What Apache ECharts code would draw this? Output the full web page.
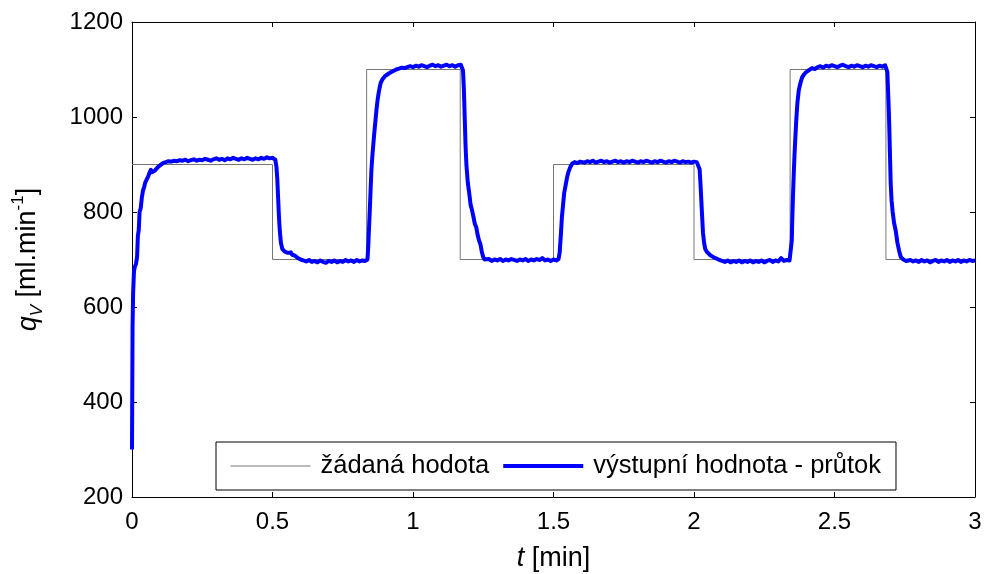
<!DOCTYPE html>
<html>
<head>
<meta charset="utf-8">
<title>qv</title>
<script src="https://cdn.jsdelivr.net/npm/echarts@6/dist/echarts.min.js"></script>
<style>
  html, body { margin: 0; padding: 0; background: #fff; }
  #chart { width: 992px; height: 574px; }
</style>
</head>
<body>
<div id="chart"></div>
<script>
// osa x a y
var xTicks = [0, 0.5, 1, 1.5, 2, 2.5, 3];
var yTicks = [200, 400, 600, 800, 1000, 1200];

// žádaná hodota (skoky) - [t, q]
var setpoint = [[0, 900], [0.5, 700], [0.835, 1100], [1.168, 700], [1.5, 900], [2.0, 700], [2.342, 1100], [2.683, 700], [3, 700]];

// výstupní hodnota - průtok, po úsecích [t, q]
var rise1 = [[0,300],[0.002,560],[0.004,630],[0.007,675],[0.01,685],[0.014,690],[0.018,705],[0.021,750],[0.024,762],[0.027,800],[0.031,808],[0.035,830],[0.039,845],[0.043,852],[0.047,862],[0.052,868],[0.057,874],[0.062,882],[0.067,889],[0.071,884],[0.076,881],[0.081,887],[0.087,891],[0.093,895],[0.1,899],[0.11,903],[0.12,905],[0.13,907],[0.14,906],[0.15,908],[0.16,907],[0.17,909],[0.18,908],[0.19,910],[0.2,907],[0.21,909],[0.22,911],[0.23,908],[0.24,910],[0.25,909],[0.26,912],[0.27,910],[0.28,908],[0.29,911],[0.3,913],[0.31,910],[0.32,912],[0.33,909],[0.34,913],[0.35,911],[0.36,914],[0.37,912],[0.38,910],[0.39,913],[0.4,911],[0.41,914],[0.42,912],[0.43,910],[0.44,913],[0.45,911],[0.46,914],[0.47,912],[0.48,915],[0.49,913],[0.5,914],[0.505,913],[0.51,910]];
var fall1 = [[0.514,895],[0.517,870],[0.52,830],[0.523,790],[0.526,760],[0.53,735],[0.535,722],[0.54,720],[0.545,716],[0.55,718],[0.555,714],[0.56,712],[0.565,715],[0.57,710],[0.575,706],[0.58,708],[0.59,703],[0.6,700],[0.61,698],[0.62,696],[0.63,699],[0.64,695],[0.65,697],[0.66,694],[0.67,698],[0.68,695],[0.69,693],[0.7,697],[0.71,695],[0.72,698],[0.73,694],[0.74,697],[0.75,695],[0.76,699],[0.77,696],[0.78,698],[0.79,695],[0.8,699],[0.81,696],[0.82,698],[0.83,697],[0.838,700]];
var rise2 = [[0.841,730],[0.843,760],[0.846,800],[0.848,830],[0.85,860],[0.852,888],[0.855,915],[0.858,937],[0.862,965],[0.866,990],[0.87,1015],[0.874,1036],[0.879,1055],[0.885,1072],[0.892,1080],[0.9,1086],[0.91,1090],[0.92,1094],[0.93,1097],[0.94,1100],[0.95,1102],[0.96,1104],[0.97,1103],[0.98,1105],[0.99,1107],[1.0,1105],[1.01,1108],[1.02,1106],[1.03,1109],[1.04,1107],[1.05,1105],[1.06,1108],[1.07,1110],[1.08,1107],[1.09,1109],[1.1,1106],[1.11,1108],[1.12,1110],[1.13,1107],[1.14,1109],[1.15,1106],[1.16,1109],[1.17,1110],[1.175,1108]];
var fall2 = [[1.178,1098],[1.181,1060],[1.184,1000],[1.187,940],[1.19,900],[1.195,862],[1.2,840],[1.205,815],[1.21,804],[1.215,790],[1.22,775],[1.225,768],[1.23,752],[1.235,740],[1.24,732],[1.245,716],[1.25,705],[1.255,700],[1.26,698],[1.27,701],[1.28,697],[1.29,700],[1.3,698],[1.31,701],[1.32,697],[1.33,700],[1.34,698],[1.35,701],[1.36,699],[1.37,697],[1.38,700],[1.39,698],[1.4,701],[1.41,697],[1.42,700],[1.43,698],[1.44,701],[1.45,699],[1.46,703],[1.47,698],[1.48,700],[1.49,697],[1.5,700],[1.51,698],[1.518,701]];
var rise3 = [[1.522,715],[1.526,750],[1.53,790],[1.534,815],[1.538,840],[1.543,856],[1.548,872],[1.553,884],[1.56,895],[1.567,902],[1.575,905],[1.585,903],[1.595,906],[1.61,904],[1.62,907],[1.63,905],[1.64,908],[1.65,904],[1.66,906],[1.67,908],[1.68,905],[1.69,907],[1.7,904],[1.71,906],[1.72,908],[1.73,905],[1.74,907],[1.75,904],[1.76,907],[1.77,905],[1.78,908],[1.79,906],[1.8,904],[1.81,907],[1.82,905],[1.83,908],[1.84,906],[1.85,904],[1.86,907],[1.87,905],[1.88,908],[1.89,906],[1.9,904],[1.91,907],[1.92,905],[1.93,908],[1.94,906],[1.95,904],[1.96,907],[1.97,905],[1.98,906],[1.99,904],[2.0,906],[2.01,905],[2.017,903]];
var fall3 = [[2.02,890],[2.023,860],[2.026,825],[2.029,790],[2.032,756],[2.036,735],[2.04,722],[2.046,716],[2.052,712],[2.058,709],[2.065,706],[2.072,704],[2.08,702],[2.09,699],[2.1,697],[2.11,695],[2.12,698],[2.13,694],[2.14,697],[2.15,695],[2.16,698],[2.17,694],[2.18,697],[2.19,695],[2.2,698],[2.21,694],[2.22,697],[2.23,695],[2.24,698],[2.25,694],[2.26,697],[2.27,699],[2.28,695],[2.29,698],[2.3,696],[2.31,703],[2.32,697],[2.33,699],[2.34,698],[2.346,700]];
var rise4 = [[2.348,740],[2.35,790],[2.352,830],[2.355,880],[2.358,925],[2.361,960],[2.364,994],[2.368,1030],[2.373,1057],[2.379,1072],[2.385,1084],[2.392,1090],[2.4,1095],[2.41,1099],[2.42,1103],[2.43,1101],[2.44,1105],[2.45,1107],[2.46,1104],[2.47,1108],[2.48,1106],[2.49,1109],[2.5,1107],[2.51,1105],[2.52,1108],[2.53,1110],[2.54,1107],[2.55,1105],[2.56,1108],[2.57,1106],[2.58,1109],[2.59,1107],[2.6,1105],[2.61,1108],[2.62,1106],[2.63,1109],[2.64,1107],[2.65,1105],[2.66,1108],[2.67,1106],[2.68,1109],[2.685,1110]];
var fall4 = [[2.688,1095],[2.691,1050],[2.694,1000],[2.697,930],[2.7,860],[2.703,825],[2.707,800],[2.712,777],[2.718,760],[2.724,735],[2.73,718],[2.736,705],[2.745,700],[2.755,697],[2.77,699],[2.78,696],[2.79,698],[2.8,695],[2.81,699],[2.82,696],[2.83,698],[2.84,694],[2.85,697],[2.86,699],[2.87,695],[2.88,698],[2.89,696],[2.9,699],[2.91,695],[2.92,698],[2.93,696],[2.94,699],[2.95,695],[2.96,698],[2.97,696],[2.98,699],[2.99,697],[3.0,698]];

var flow = [].concat(rise1, fall1, rise2, fall2, rise3, fall3, rise4, fall4);

var FONT = 'Liberation Sans, Arial, sans-serif';
var SP_COLOR = '#777';
var OUT_COLOR = '#0000ff';

var chart = echarts.init(document.getElementById('chart'));

function xAx(pos, showLabel) {
    return {
        type: 'value', position: pos, min: 0, max: 3, interval: 0.5,
        axisLine: { show: true, onZero: false, lineStyle: { color: '#000', width: 1 } },
        axisTick: { show: true, inside: true, length: 5, lineStyle: { color: '#000' } },
        axisLabel: { show: showLabel, color: '#000', fontSize: 24, fontFamily: FONT, margin: 13,
            formatter: function (v) { return xTicks.indexOf(v) >= 0 ? String(v) : ''; } },
        splitLine: { show: false }
    };
}
function yAx(pos, showLabel) {
    return {
        type: 'value', position: pos, min: 200, max: 1200, interval: 200,
        axisLine: { show: true, onZero: false, lineStyle: { color: '#000', width: 1 } },
        axisTick: { show: true, inside: true, length: 5, lineStyle: { color: '#000' } },
        axisLabel: { show: showLabel, color: '#000', fontSize: 24, fontFamily: FONT, margin: 9,
            formatter: function (v) { return yTicks.indexOf(v) >= 0 ? String(v) : ''; } },
        splitLine: { show: false }
    };
}

var xBottom = xAx('bottom', true);
xBottom.name = '{it|t} [min]';
xBottom.nameLocation = 'middle';
xBottom.nameGap = 48;
xBottom.nameTextStyle = { color: '#000', fontSize: 27, fontFamily: FONT,
    rich: { it: { fontStyle: 'italic', fontSize: 27, fontFamily: FONT, color: '#000' } } };

var yLeft = yAx('left', true);
yLeft.name = '{it|q}{sub|V}{n| [ml.min}{sup|-1}{n|]}';
yLeft.nameLocation = 'middle';
yLeft.nameGap = 86;
yLeft.nameTextStyle = { color: '#000', fontSize: 27, fontFamily: FONT, lineHeight: 36,
    rich: {
        it: { fontStyle: 'italic', fontSize: 27, fontFamily: FONT, color: '#000', lineHeight: 36 },
        n: { fontSize: 27, fontFamily: FONT, color: '#000', lineHeight: 36 },
        sub: { fontStyle: 'italic', fontSize: 17, fontFamily: FONT, color: '#000', verticalAlign: 'bottom', lineHeight: 36 },
        sup: { fontSize: 17, fontFamily: FONT, color: '#000', verticalAlign: 'top', lineHeight: 36 }
    } };

var option = {
    backgroundColor: '#fff',
    animation: false,
    grid: { left: 132, right: 17, top: 22, bottom: 77, outerBoundsMode: 'none', containLabel: false,
        show: true, backgroundColor: '#fff', borderWidth: 0 },
    xAxis: [xBottom, xAx('top', false)],
    yAxis: [yLeft, yAx('right', false)],
    legend: {
        left: 216, top: 442,
        orient: 'horizontal',
        padding: [11, 15, 11, 14],
        itemGap: 12,
        itemWidth: 80, itemHeight: 14,
        borderColor: '#000', borderWidth: 1, borderRadius: 0,
        backgroundColor: '#fff',
        itemStyle: { opacity: 0 },
        textStyle: { color: '#000', fontSize: 25.5, fontFamily: FONT, padding: [0, 0, 0, 5] },
        data: [
            { name: 'žádaná hodota', lineStyle: { color: SP_COLOR, width: 1 } },
            { name: 'výstupní hodnota - průtok', lineStyle: { color: OUT_COLOR, width: 4 } }
        ]
    },
    series: [
        {
            name: 'žádaná hodota', type: 'line', xAxisIndex: 0, yAxisIndex: 0,
            step: 'end', symbol: 'none', data: setpoint,
            lineStyle: { color: SP_COLOR, width: 1 }, itemStyle: { color: SP_COLOR }, z: 2
        },
        {
            name: 'výstupní hodnota - průtok', type: 'line', xAxisIndex: 0, yAxisIndex: 0,
            symbol: 'none', data: flow,
            lineStyle: { color: OUT_COLOR, width: 4, join: 'round' }, itemStyle: { color: OUT_COLOR }, z: 3
        }
    ]
};
chart.setOption(option);
</script>
</body>
</html>
